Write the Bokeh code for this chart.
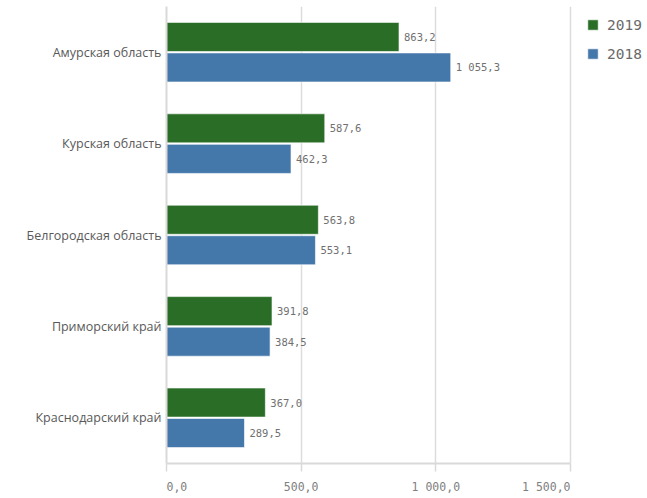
from bokeh.plotting import figure
from bokeh.models import ColumnDataSource, FactorRange, Range1d, Legend, LegendItem, FixedTicker
from bokeh.transform import dodge
from bokeh.core.properties import value
from bokeh.embed import file_html
from bokeh.resources import INLINE

regions = ["Амурская область", "Курская область", "Белгородская область",
           "Приморский край", "Краснодарский край"]
v2019 = [863.2, 587.6, 563.8, 391.8, 367.0]
v2018 = [1055.3, 462.3, 553.1, 384.5, 289.5]
x_ticks = [0, 500, 1000, 1500]
tick_labels = ["0,0", "500,0", "1 000,0", "1 500,0"]

GREEN = "#296d27"
BLUE = "#4477aa"
MONO = "DejaVu Sans Mono"
NB = "\u00a0"


def fmt(v):
    return f"{v:,.1f}".replace(",", " ").replace(".", ",")


src = ColumnDataSource(dict(
    region=regions, v2019=v2019, v2018=v2018,
    l2019=[fmt(v) for v in v2019], l2018=[fmt(v) for v in v2018],
))

W, H = 647, 496
FL, AX_END, FT, FB = 166, 570, 6, 464   # frame left, end of value axis, frame top/bottom
x_max = x_ticks[-1]
x_end = x_max * (W - FL) / (AX_END - FL)   # frame runs to the right edge, legend sits in it

p = figure(width=W, height=H,
           y_range=FactorRange(factors=list(reversed(regions))),
           x_range=Range1d(0, x_end),
           output_backend="svg", toolbar_location=None,
           min_border_left=FL, min_border_right=0,
           min_border_top=FT, min_border_bottom=H - FB)
p.outline_line_color = None
p.background_fill_color = "white"

r1 = p.hbar(y=dodge("region", 0.167, range=p.y_range), right="v2019", left=0,
            height=0.318, fill_color=GREEN, line_color="white", line_alpha=0.6,
            source=src)
r2 = p.hbar(y=dodge("region", -0.167, range=p.y_range), right="v2018", left=0,
            height=0.318, fill_color=BLUE, line_color="white", line_alpha=0.6,
            source=src)

for col, off in (("2019", 0.167), ("2018", -0.167)):
    p.text(x="v" + col, y=dodge("region", off, range=p.y_range), text="l" + col,
           x_offset=5, text_baseline="middle", text_align="left",
           text_font=value(MONO), text_font_size="10.5px", text_color="#707070",
           source=src)

# axes
p.yaxis.axis_line_color = "#d9d9d9"
p.yaxis.axis_line_width = 2
p.yaxis.major_tick_line_color = None
p.yaxis.minor_tick_line_color = None
p.yaxis.major_tick_out = 0
p.yaxis.major_tick_in = 0
p.yaxis.major_label_standoff = 5
p.yaxis.major_label_text_font = "Open Sans"
p.yaxis.major_label_text_font_size = "12.5px"
p.yaxis.major_label_text_color = "#595959"

# first tick label left-aligned, last right-aligned (monospace padding)
overrides = {}
n = len(x_ticks)
for i, (x, t) in enumerate(zip(x_ticks, tick_labels)):
    t = t.replace(" ", NB)
    if i == 0:
        t = NB * len(t) + t
    elif i == n - 1:
        t = t + NB * len(t)
    overrides[x] = t

p.xaxis.ticker = FixedTicker(ticks=x_ticks)
p.xaxis.bounds = (0, x_max)
p.xaxis.major_label_overrides = overrides
p.xaxis.axis_line_color = "#d9d9d9"
p.xaxis.axis_line_width = 2
p.xaxis.major_tick_line_color = "#d9d9d9"
p.xaxis.major_tick_line_width = 1.5
p.xaxis.major_tick_out = 8
p.xaxis.major_tick_in = 0
p.xaxis.minor_tick_line_color = None
p.xaxis.major_label_standoff = 8
p.xaxis.major_label_text_font = MONO
p.xaxis.major_label_text_font_size = "11.5px"
p.xaxis.major_label_text_color = "#808080"

p.ygrid.visible = False
p.xgrid.ticker = FixedTicker(ticks=x_ticks)
p.xgrid.grid_line_color = "#dcdcdc"
p.xgrid.grid_line_width = 1.5

# legend inside the frame; tuple = bottom-left corner from frame bottom-left
frame_h = FB - FT
leg_top, leg_h = 11, 46
legend = Legend(items=[LegendItem(label="2019", renderers=[r1]),
                       LegendItem(label="2018", renderers=[r2])],
                location=(586 - FL, frame_h - leg_top - leg_h),
                glyph_width=13, glyph_height=13,
                label_height=17, spacing=12, label_standoff=8, padding=0,
                margin=0, border_line_color=None, background_fill_alpha=0,
                label_text_font=MONO, label_text_font_size="14.5px",
                label_text_color="#6a6a6a")
p.add_layout(legend, "center")

open("out.html", "w").write(file_html(p, INLINE))
